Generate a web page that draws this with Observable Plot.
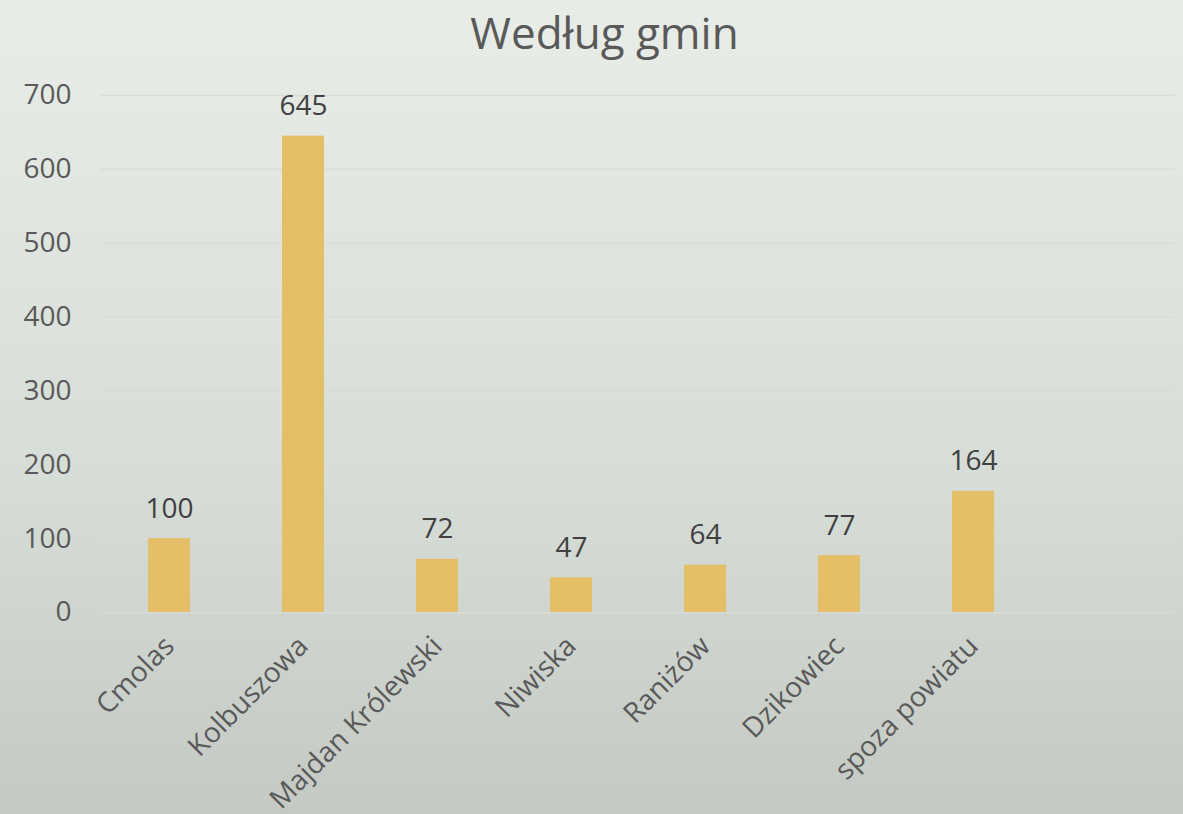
<!DOCTYPE html>
<html>
<head>
<meta charset="utf-8">
<script src="https://cdn.jsdelivr.net/npm/d3@7"></script>
<script src="https://cdn.jsdelivr.net/npm/@observablehq/plot@0.6"></script>
<style>
  html, body { margin: 0; padding: 0; }
  #chart {
    width: 1183px; height: 814px; overflow: hidden;
    background: linear-gradient(to bottom, #e8ede8 0%, #d6dcd6 60%, #c4cac3 100%);
    font-family: "Open Sans", "Noto Sans", sans-serif;
  }
  #title {
    height: 75px; line-height: 64px; text-align: center;
    font-size: 44px; color: #595959; padding-left: 26px;
  }
</style>
</head>
<body>
<div id="chart"><div id="title">Według gmin</div></div>
<script>
const categories = ["Cmolas", "Kolbuszowa", "Majdan Królewski", "Niwiska", "Raniżów", "Dzikowiec", "spoza powiatu", ""];
const values = [100, 645, 72, 47, 64, 77, 164, null];
const yTicks = [0, 100, 200, 300, 400, 500, 600, 700];

const data = categories.map((c, i) => ({category: c, value: values[i]})).filter(d => d.value != null);

const plot = Plot.plot({
  width: 1183,
  height: 739,
  marginTop: 20,
  marginBottom: 202,
  marginLeft: 101,
  marginRight: 8,
  style: {background: "transparent", fontFamily: "\"Open Sans\", \"Noto Sans\", sans-serif", fontSize: "28px", color: "#595959"},
  x: {domain: categories, paddingInner: 0.69, paddingOuter: 0.345, label: null, tickSize: 0, tickRotate: -45, tickPadding: 29},
  y: {domain: [0, 700], ticks: yTicks, label: null, tickSize: 0, tickPadding: 30, grid: false},
  marks: [
    Plot.ruleY(yTicks, {stroke: "#d9dcd9", strokeWidth: 1.5}),
    Plot.barY(data, {x: "category", y: "value", fill: "#E5BE68"}),
    Plot.text(data, {x: "category", y: "value", text: d => String(d.value), lineAnchor: "bottom", dy: -21, fill: "#404040", fontSize: 28})
  ]
});
document.getElementById("chart").appendChild(plot);
</script>
</body>
</html>
